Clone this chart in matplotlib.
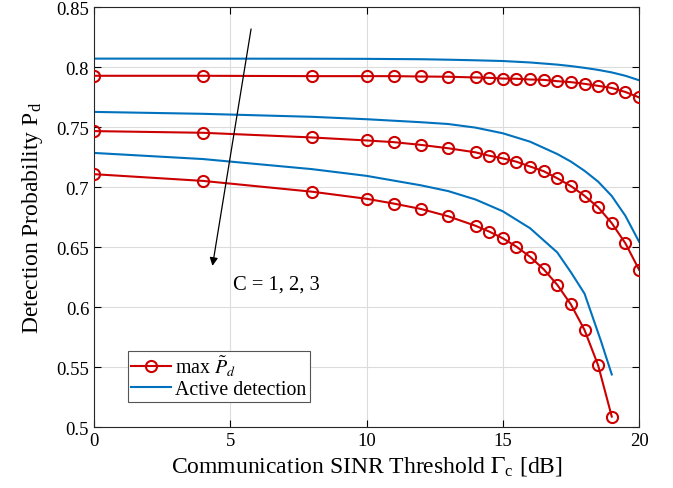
import matplotlib
matplotlib.use('Agg')
import matplotlib.pyplot as plt
import numpy as np

plt.rcParams['font.family'] = ['Liberation Serif', 'DejaVu Serif']
plt.rcParams['mathtext.fontset'] = 'stix'

# SINR threshold points where the red markers sit
x_red = [0, 4, 8, 10, 11, 12, 13, 14, 14.5, 15, 15.5, 16, 16.5, 17, 17.5, 18, 18.5, 19, 19.5, 20]

# max P_d (markers), C = 1, 2, 3
red_c1 = [0.7927, 0.7927, 0.7924, 0.7924, 0.7924, 0.7921, 0.7919, 0.7913, 0.7910, 0.7904,
          0.7902, 0.7896, 0.7893, 0.7882, 0.7874, 0.7860, 0.7843, 0.7826, 0.7792, 0.7747]
red_c2 = [0.7466, 0.7452, 0.7413, 0.7388, 0.7374, 0.7351, 0.7323, 0.7289, 0.7261, 0.7239,
          0.7211, 0.7171, 0.7132, 0.7073, 0.7008, 0.6927, 0.6831, 0.6699, 0.6531, 0.6312]
red_c3 = [0.7107, 0.7051, 0.6961, 0.6902, 0.6862, 0.6817, 0.6756, 0.6677, 0.6629, 0.6573,
          0.6503, 0.6419, 0.6315, 0.6185, 0.6022, 0.5809, 0.5514, 0.5087]

# active detection (solid blue)
x_blue = [0, 4, 8, 10, 12, 13, 14, 15, 16, 17, 17.5, 18, 18.5, 19, 19.5, 20]
blue_c1 = [0.8070, 0.8070, 0.8069, 0.8068, 0.8065, 0.8061, 0.8056, 0.8050, 0.8038, 0.8020,
           0.8008, 0.7993, 0.7976, 0.7955, 0.7927, 0.7890]
blue_c2 = [0.7626, 0.7610, 0.7585, 0.7565, 0.7540, 0.7525, 0.7495, 0.7448, 0.7378, 0.7275,
           0.7212, 0.7135, 0.7045, 0.6925, 0.6760, 0.6545]
x_blue3 = [0, 4, 8, 10, 12, 13, 14, 15, 16, 17, 17.5, 18, 18.6, 19]
blue_c3 = [0.7284, 0.7233, 0.7149, 0.7093, 0.7014, 0.6966, 0.6896, 0.6798, 0.6657, 0.6455,
           0.6290, 0.6112, 0.5719, 0.5438]

red = '#CC0000'
blue = '#0072BD'

fig = plt.figure(figsize=(6.73, 4.89), dpi=100)
ax = fig.add_axes([0.1397, 0.1247, 0.8098, 0.8589])

mk = dict(color=red, lw=1.5, marker='o', ms=8, mfc='none', mew=1.5, zorder=3)
ax.plot(x_red, red_c1, label=r'max $\tilde{P}_d$', **mk)
ax.plot(x_blue, blue_c1, color=blue, lw=1.5, label='Active detection')
ax.plot(x_red, red_c2, **mk)
ax.plot(x_blue, blue_c2, color=blue, lw=1.5)
ax.plot(x_red[:len(red_c3)], red_c3, **mk)
ax.plot(x_blue3, blue_c3, color=blue, lw=1.5)

ax.annotate('', xy=(4.33, 0.632), xytext=(5.78, 0.834),
            arrowprops=dict(arrowstyle='-|>', color='black', lw=0.9, mutation_scale=12))
ax.text(5.1, 0.619, 'C = 1, 2, 3', fontsize=14.8, va='center')

ax.set_xlim(0, 20)
ax.set_ylim(0.5, 0.85)
ax.set_xticks([0, 5, 10, 15, 20])
ax.set_yticks([0.5, 0.55, 0.6, 0.65, 0.7, 0.75, 0.8, 0.85])
ax.set_yticklabels(['0.5', '0.55', '0.6', '0.65', '0.7', '0.75', '0.8', '0.85'])
ax.grid(True, color='#DCDCDC', lw=0.8)
ax.set_axisbelow(True)
ax.tick_params(direction='in', top=True, right=True, labelsize=13.5, length=5, width=0.8)
for s in ax.spines.values():
    s.set_linewidth(0.8)
    s.set_color('#262626')

ax.set_xlabel(r'Communication SINR Threshold $\Gamma_\mathregular{c}$ [dB]', fontsize=17, labelpad=4)
ax.set_ylabel(r'Detection Probability P$_\mathregular{d}$', fontsize=17, labelpad=8)

leg = ax.legend(loc='lower left', bbox_to_anchor=(0.062, 0.06), fontsize=14.3, fancybox=False,
                edgecolor='#555555', framealpha=1, borderpad=0.15, handlelength=2.0,
                handletextpad=0.25, labelspacing=0.1, borderaxespad=0)
leg.get_frame().set_linewidth(0.8)

fig.savefig('out.png', dpi=100)
